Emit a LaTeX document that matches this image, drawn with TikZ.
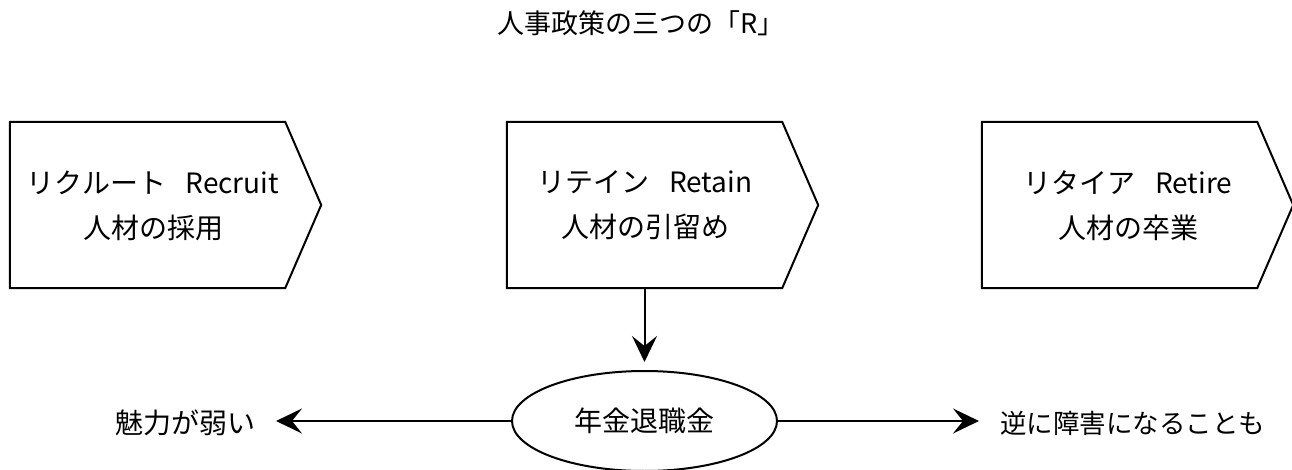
\documentclass[tikz,border=0pt]{standalone}
\usepackage{fontspec}
\setmainfont{Noto Sans CJK JP}
\usetikzlibrary{arrows.meta,shapes.geometric,calc}
\begin{document}
\begin{tikzpicture}[x=1pt,y=-1pt,
  rbox/.style={rectangle, minimum width=275pt, minimum height=166pt, inner sep=0pt},
  btext/.style={align=center, font=\fontsize{28}{45}\selectfont, inner sep=0pt},
  shapeline/.style={line width=2pt, line join=miter},
  conn/.style={line width=2pt, -{Stealth[length=26pt,width=25pt,inset=10pt]}},
  side/.style={font=\fontsize{28}{30}\selectfont, inner sep=0pt, outer xsep=21pt}]
\useasboundingbox (0,0) rectangle (1292,470);
\node[font=\fontsize{27}{30}\selectfont, inner sep=0pt] (title) at (641,23) {人事政策の三つの「R」};
\node[rbox] (b1) at (147.5,205) {};
\node[rbox] (b2) at (644.5,205) {};
\node[rbox] (b3) at (1119.5,205) {};
\foreach \b in {b1,b2,b3}
  \draw[shapeline] (\b.north west) -- (\b.north east) -- ($(\b.east)+(36,0)$) -- (\b.south east) -- (\b.south west) -- cycle;
\node[btext] (t1) at (153,205.5) {リクルート\hspace{0.7em}Recruit\\人材の採用};
\node[btext] (t2) at (645,205.5) {リテイン\hspace{0.7em}Retain\\人材の引留め};
\node[btext] (t3) at (1128,205.5) {リタイア\hspace{0.7em}Retire\\人材の卒業};
\node[ellipse, draw, line width=2pt, minimum width=265pt, minimum height=100pt, inner sep=0pt, font=\fontsize{28}{30}\selectfont] (ell) at (644.5,421) {年金退職金};
\node[side] (weak) at (185,423) {魅力が弱い};
\node[side, font=\fontsize{26.5}{30}\selectfont] (hind) at (1132.5,423) {逆に障害になることも};
\draw[conn, shorten >=8pt] (b2.south) -- (ell.north);
\draw[conn] (ell.west) -- (ell.west -| weak.east);
\draw[conn] (ell.east) -- (ell.east -| hind.west);
\end{tikzpicture}
\end{document}
